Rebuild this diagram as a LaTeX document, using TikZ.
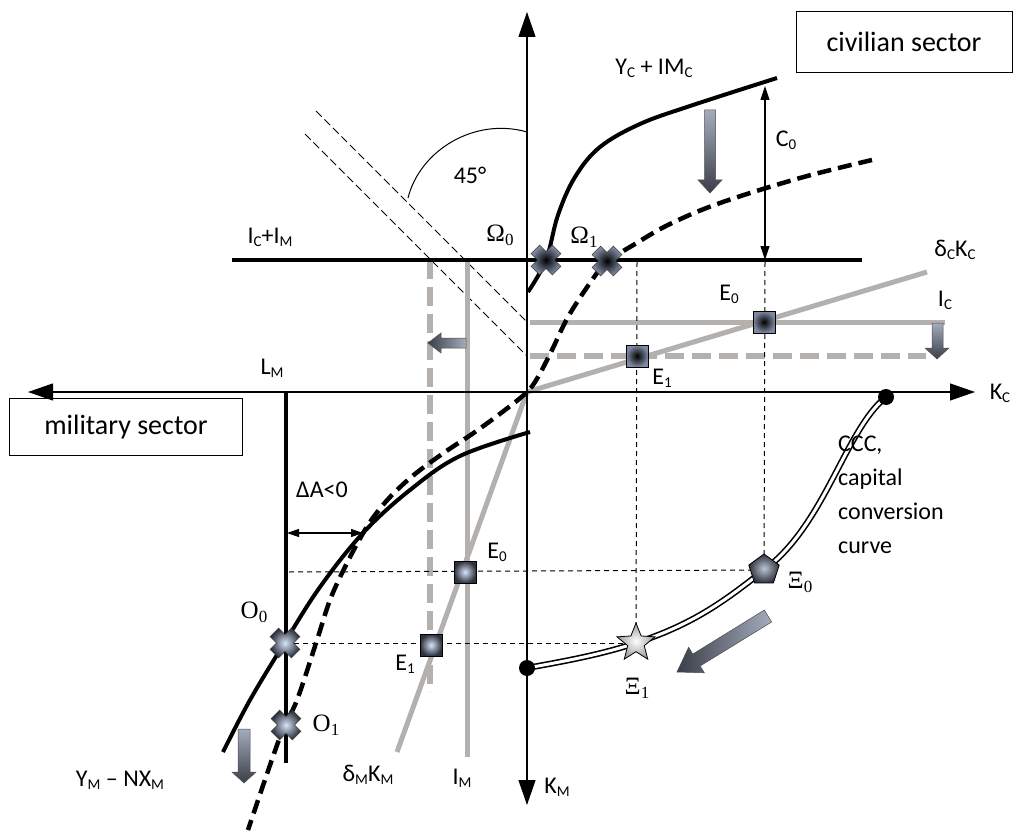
\documentclass[tikz,border=0pt]{standalone}
\usepackage{fontspec}
\setmainfont{Carlito}
\newfontfamily\grk{Liberation Serif}
\usetikzlibrary{arrows.meta,calc,shapes.geometric}
\newcommand\sbs[1]{\raisebox{-3pt}{\fontsize{15}{15}\selectfont #1}}
\newcommand\gsub[1]{\raisebox{-4pt}{\fontsize{17}{17}\selectfont #1}}
\definecolor{grayline}{HTML}{B4B0AE}
\definecolor{arlight}{HTML}{A4ACBC}
\definecolor{ardark}{HTML}{3A3E48}
\definecolor{xout}{HTML}{7F8AA3}
\definecolor{xin}{HTML}{D6E4FA}
\definecolor{xdk}{HTML}{2E323B}
\tikzset{
  axisline/.style={line width=1.2pt, {Triangle[length=25pt,width=17pt]}-{Triangle[length=25pt,width=17pt]}},
  sbox/.style={draw, line width=0.8pt, inner sep=0pt, font=\fontsize{28}{32}\selectfont},
  lab/.style={inner sep=0pt, font=\fontsize{24}{28}\selectfont},
  glab/.style={inner sep=0pt, font=\grk\fontsize{25}{28}\selectfont},
  blk/.style={line width=4pt},
  blkdash/.style={line width=4.5pt, dash pattern=on 14pt off 7pt},
  gline/.style={grayline, line width=5pt},
  gdash/.style={grayline, line width=6pt, dash pattern=on 19pt off 8pt},
  thindash/.style={line width=0.9pt, dash pattern=on 8pt off 4pt},
  guide/.style={line width=1pt, dash pattern=on 5pt off 4pt},
  thinarr/.style={line width=1.1pt, {Triangle[length=14pt,width=9pt]}-{Triangle[length=14pt,width=9pt]}},
  ccc/.style={line width=1.6pt, double=white, double distance=3pt},
  barr/.style={draw=black!70, line width=0.5pt},
  sqdark/.style={draw=black, line width=0.9pt, minimum size=22pt, inner sep=0pt, inner color=black, outer color=xout},
  sqlight/.style={draw=black, line width=0.9pt, minimum size=22pt, inner sep=0pt, inner color=xin, outer color=xdk},
  xdark/.pic={\shade[draw=black!80, line width=0.6pt, inner color=black, outer color=xout, rotate=45] (-6,-15) -- (6,-15) -- (6,-6) -- (15,-6) -- (15,6) -- (6,6) -- (6,15) -- (-6,15) -- (-6,6) -- (-15,6) -- (-15,-6) -- (-6,-6) -- cycle;},
  xlight/.pic={\shade[draw=black!80, line width=0.6pt, inner color=xin, outer color=xdk, rotate=45] (-6,-15) -- (6,-15) -- (6,-6) -- (15,-6) -- (15,6) -- (6,6) -- (6,15) -- (-6,15) -- (-6,6) -- (-15,6) -- (-15,-6) -- (-6,-6) -- cycle;},
}
\begin{document}
\begin{tikzpicture}[x=1pt,y=-1pt]
\useasboundingbox (0,0) rectangle (1018,832);
% key coordinates
\coordinate (O) at (527,392);
\coordinate (axL) at (28,392);
\coordinate (axR) at (975,392);
\coordinate (axT) at (527,12);
\coordinate (axB) at (527,805);
% boxes
\node[sbox, minimum width=216pt, minimum height=61pt] (civ) at (904,42) {civilian sector};
\node[sbox, minimum width=233pt, minimum height=57pt] (mil) at (126,427) {military sector};
% 45 degree guides
\coordinate (dA1) at (316,111); \coordinate (dA2) at (527,322);
\coordinate (dB1) at (305,134); \coordinate (dB2) at (527,356);
\draw[thindash] (dA1) -- (dA2);
\draw[thindash] (dB1) -- (dB2);
\coordinate (arc1) at (527,132); \coordinate (arc2) at (408,198);
\draw[line width=1pt] (arc1) .. controls (475,117) and (420,150) .. (arc2);
% gray lines
\coordinate (imT) at (467,260); \coordinate (imB) at (467,757);
\coordinate (imdT) at (430,260); \coordinate (imdB) at (430,692);
\coordinate (icL) at (530,322); \coordinate (icR) at (945,322);
\coordinate (icdL) at (530,356); \coordinate (icdR) at (926,356);
\coordinate (dcE) at (927,272); \coordinate (dmE) at (397,752);
\draw[gline] (imT) -- (imB);
\draw[gdash] (imdT) -- (imdB);
\draw[gline] (icL) -- (icR);
\draw[gdash] (icdL) -- (icdR);
\draw[gline] (O) -- (dcE);
\draw[gline] (O) -- (dmE);
% guides
\coordinate (om0) at (546,260); \coordinate (om1) at (607,261);
\coordinate (o0) at (285,643); \coordinate (o1) at (286,725);
\coordinate (g1) at (637,262); \coordinate (g2) at (765,262);
\coordinate (g3) at (289,572);
\coordinate (dotR) at (886,397); \coordinate (dotL) at (527,668);
\coordinate (pXi0) at (764,570); \coordinate (pXi1) at (636,643);
\draw[guide] (g1) -- (pXi1);
\draw[guide] (g2) -- (pXi0);
\draw[guide] (g3) -- (pXi0);
\draw[guide] (o0) -- (pXi1);
% axes
\draw[axisline] (axL) -- (axR);
\draw[axisline] (axT) -- (axB);
% black lines
\coordinate (hL) at (232,260); \coordinate (hR) at (862,260);
\draw[blk] (hL) -- (hR);
\coordinate (lmT) at (286,393); \coordinate (lmB) at (286,763);
\draw[blk] (lmT) -- (lmB);
% curves
\draw[blk] plot[smooth, tension=0.6] coordinates {(528,292) (546,260) (558,215) (575,177) (600,147) (640,124) (690,106) (777,78)};
\draw[blkdash] plot[smooth, tension=0.6] coordinates {(872,160) (800,178) (720,203) (670,224) (635,244) (607,262) (590,283) (568,317) (552,350) (538,377) (527,392) (505,410) (475,432) (445,452) (415,474) (392,495) (375,515) (362,535) (345,567) (330,600) (317,640) (297,700) (280,737) (248,830)};
\draw[blk] plot[smooth, tension=0.6] coordinates {(530,432) (460,456) (410,490) (363,533) (320,587) (285,642) (250,700) (223,752)};
% CCC
\draw[ccc] (dotR) .. controls (845,430) and (825,525) .. (pXi0) .. controls (720,605) and (690,625) .. (pXi1) .. controls (600,655) and (560,662) .. (dotL);
\fill (dotR) circle (8pt);
\fill (dotL) circle (8pt);
% small arrows
\coordinate (c0T) at (765,86); \coordinate (c0B) at (765,260);
\draw[thinarr] (c0T) -- (c0B);
\coordinate (daL) at (287,533); \coordinate (daR) at (363,533);
\draw[line width=1.1pt, {Triangle[length=12pt,width=8pt]}-{Triangle[length=12pt,width=8pt]}] (daL) -- (daR);
% block arrows
\shade[barr, top color=arlight, bottom color=ardark] (704.5,110) -- (715.5,110) -- (715.5,180) -- (722,180) -- (710,193) -- (698,180) -- (704.5,180) -- cycle;
\shade[barr, top color=arlight, bottom color=ardark] (932,323) -- (943,323) -- (943,348) -- (949,348) -- (937,359) -- (925,348) -- (932,348) -- cycle;
\shade[barr, top color=arlight, bottom color=ardark] (238,729) -- (250,729) -- (250,772) -- (256,772) -- (244,783) -- (232,772) -- (238,772) -- cycle;
\shade[barr, left color=ardark, right color=arlight] (428,343) -- (441,333) -- (441,338) -- (466,338) -- (466,348) -- (441,348) -- (441,353) -- cycle;
\coordinate (daT) at (768,616); \coordinate (daP) at (677,672);
\coordinate (daH) at ($(daT)!84pt!(daP)$);
\shade[barr, left color=ardark, right color=arlight]
  ($(daT)!7pt!90:(daP)$) -- ($(daH)!7pt!90:(daP)$) -- ($(daH)!15pt!90:(daP)$) -- (daP)
  -- ($(daH)!15pt!-90:(daP)$) -- ($(daH)!7pt!-90:(daP)$) -- ($(daT)!7pt!-90:(daP)$) -- cycle;
% markers
\pic at (om0) {xdark};
\pic at (om1) {xdark};
\pic at (o0) {xlight};
\pic at (o1) {xlight};
\node[sqdark] (e0u) at (764,322) {};
\node[sqdark] (e1u) at (637,356) {};
\node[sqlight] (e0l) at (465,572) {};
\node[sqlight] (e1l) at (431,645) {};
\node[regular polygon, regular polygon sides=5, minimum size=32pt, inner sep=0pt, draw=black, line width=0.8pt, inner color=xin!70!gray, outer color=xdk] (xi0) at (pXi0) {};
\node[star, star points=5, star point ratio=2.3, minimum size=40pt, inner sep=0pt, draw=black, line width=0.8pt, inner color=white, outer color=black!40] (xi1) at (pXi1) {};
% labels
\node[lab] (lYC) at (654,68) {Y\sbs{C} + IM\sbs{C}};
\node[lab] (lC0) at (786,140) {C\sbs{0}};
\node[lab] (l45) at (470,175) {45°};
\node[lab] (lICM) at (270,237) {I\sbs{C}+I\sbs{M}};
\node[glab] (lOm0) at (500,235) {Ω\gsub{0}};
\node[glab] (lOm1) at (584,237) {Ω\gsub{1}};
\node[lab] (ldC) at (955,250) {δ\sbs{C}K\sbs{C}};
\node[lab] (lE0u) at (729,294) {E\sbs{0}};
\node[lab] (lIc) at (945,300) {I\sbs{C}};
\node[lab] (lE1u) at (662,378) {E\sbs{1}};
\node[lab] (lKC) at (1000,393) {K\sbs{C}};
\node[lab] (lLM) at (272,368) {L\sbs{M}};
\node[lab] (lDA) at (322,490) {ΔA<0};
\node[lab] (lE0l) at (497,552) {E\sbs{0}};
\node[lab] (lE1l) at (405,664) {E\sbs{1}};
\node[glab] (lO0) at (254,612) {O\gsub{0}};
\node[glab] (lO1) at (326,725) {O\gsub{1}};
\node[lab] (lYM) at (120,780) {Y\sbs{M} – NX\sbs{M}};
\node[lab] (ldM) at (368,775) {δ\sbs{M}K\sbs{M}};
\node[lab] (lIM) at (462,778) {I\sbs{M}};
\node[lab] (lKM) at (557,787) {K\sbs{M}};
\node[glab] (lXi0) at (800,582) {Ξ\gsub{0}};
\node[glab] (lXi1) at (637,688) {Ξ\gsub{1}};
\node[lab, align=left, anchor=north west, font=\fontsize{24}{34}\selectfont] (lCCC) at (838,436) {CCC,\\capital\\conversion\\curve};
\end{tikzpicture}
\end{document}
